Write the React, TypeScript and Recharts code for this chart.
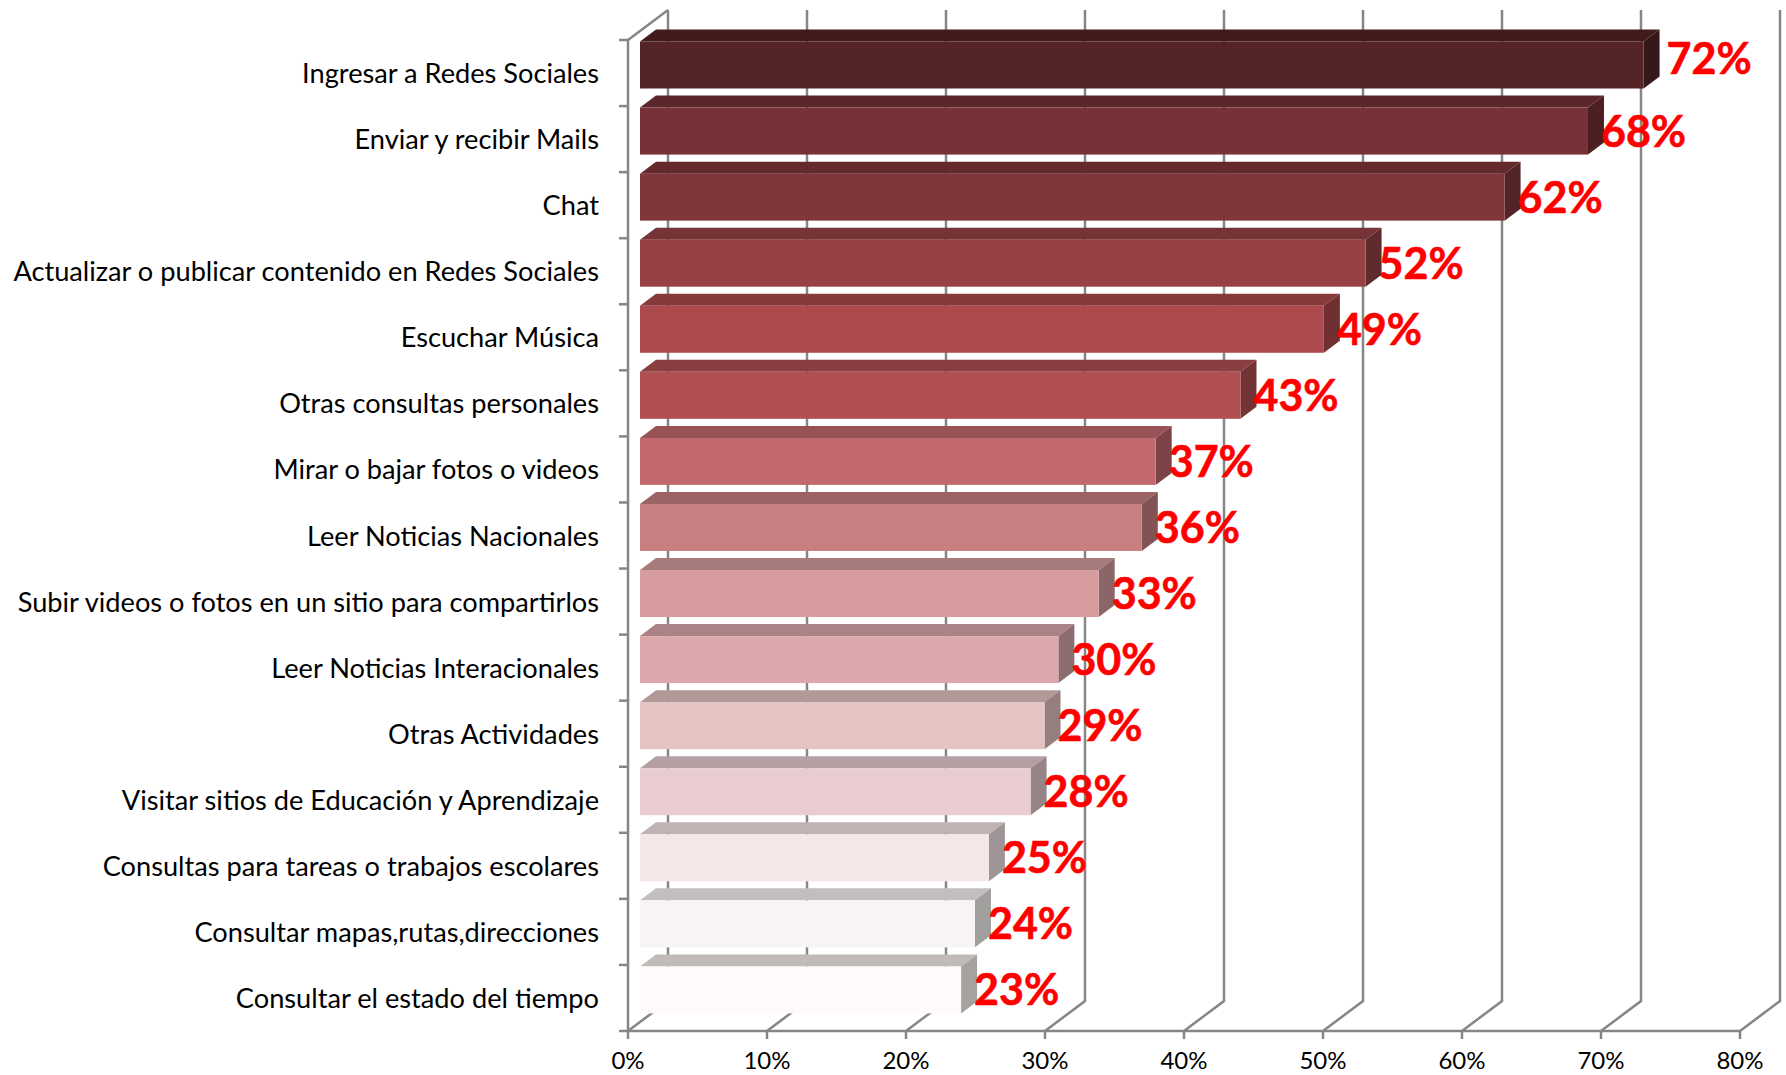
import React from "react";
import { BarChart, Bar, XAxis, YAxis, CartesianGrid, LabelList } from "recharts";

const categories = [
  "Ingresar a Redes Sociales",
  "Enviar y recibir Mails",
  "Chat",
  "Actualizar o publicar contenido en Redes Sociales",
  "Escuchar Música",
  "Otras consultas personales",
  "Mirar o bajar fotos o videos",
  "Leer Noticias Nacionales",
  "Subir videos o fotos en un sitio para compartirlos",
  "Leer Noticias Interacionales",
  "Otras Actividades",
  "Visitar sitios de Educación y Aprendizaje",
  "Consultas para tareas o trabajos escolares",
  "Consultar mapas,rutas,direcciones",
  "Consultar el estado del tiempo",
];
const values = [72.2, 68.2, 62.2, 52.2, 49.2, 43.2, 37.1, 36.1, 33.0, 30.1, 29.1, 28.1, 25.1, 24.1, 23.1];
const valueLabels = ["72%", "68%", "62%", "52%", "49%", "43%", "37%", "36%", "33%", "30%", "29%", "28%", "25%", "24%", "23%"];
const frontColors = ["#552427", "#763236", "#7f373a", "#964245", "#ad4a4d", "#b15053", "#c1696d", "#c87f82", "#d69c9e", "#dba8ac", "#e5c3c3", "#e9ccd0", "#f5e6e7", "#f9f4f4", "#fdfaf9"];
const topColors = ["#421c1d", "#5c272b", "#63292d", "#753336", "#873a3c", "#8a3e41", "#975255", "#9c6365", "#a77a7b", "#ab8386", "#b39898", "#b69fa2", "#bfb3b4", "#c2bebe", "#c0bbb9"];
const sideColors = ["#361719", "#4c2023", "#522427", "#612b2d", "#703032", "#733436", "#7d4447", "#825254", "#8b6567", "#8e6d70", "#957e7e", "#978486", "#9f9596", "#a19e9e", "#a5a2a0"];
const xTicks = [0, 10, 20, 30, 40, 50, 60, 70, 80];

const data = categories.map((name, i) => ({ name, value: values[i], label: valueLabels[i] }));

const GRAY = "#868686";
const FONT = "Lato, 'Open Sans', sans-serif";
const BAR_INSET = 12;
const DEPTH_X = 16;
const DEPTH_Y = 12;
const WALL_X = 40;
const WALL_Y = 30;
const PLOT_TOP = 40;
const PLOT_BOTTOM = 1031;
const X_AXIS_HEIGHT = 44;
const LINE_WIDTH = 2.5;

function Bar3D(props: any) {
  const { x, y, width, height, index } = props;
  const l = x + BAR_INSET;
  const t = y - 8.5;
  const r = l + width;
  const b = t + height;
  return (
    <g>
      <polygon points={`${l},${t} ${l + DEPTH_X},${t - DEPTH_Y} ${r + DEPTH_X},${t - DEPTH_Y} ${r},${t}`} fill={topColors[index]} />
      <polygon points={`${r},${t} ${r + DEPTH_X},${t - DEPTH_Y} ${r + DEPTH_X},${b - DEPTH_Y} ${r},${b}`} fill={sideColors[index]} />
      <rect x={l} y={t} width={width} height={height} fill={frontColors[index]} />
    </g>
  );
}

function WallLine(props: any) {
  const { x1 } = props;
  const bx = x1 + WALL_X;
  return (
    <polyline
      key={`wall-${x1}`}
      points={`${x1},${PLOT_BOTTOM} ${bx},${PLOT_BOTTOM - WALL_Y} ${bx},${PLOT_TOP - WALL_Y}`}
      fill="none"
      stroke={GRAY}
      strokeWidth={LINE_WIDTH}
    />
  );
}

function CategoryTick(props: any) {
  const { y, payload, index } = props;
  const axisX = 628;
  const half = 33.03;
  return (
    <g>
      <line x1={axisX - 9} x2={axisX} y1={y - half} y2={y - half} stroke={GRAY} strokeWidth={LINE_WIDTH} />
      {index === categories.length - 1 && (
        <line x1={axisX - 9} x2={axisX} y1={y + half} y2={y + half} stroke={GRAY} strokeWidth={LINE_WIDTH} />
      )}
      {index === 0 && (
        <line x1={axisX} x2={axisX + WALL_X} y1={PLOT_TOP} y2={PLOT_TOP - WALL_Y} stroke={GRAY} strokeWidth={LINE_WIDTH} />
      )}
      <text x={599} y={y} dy={10} textAnchor="end" fontFamily={FONT} fontSize={27.2} fill="#000">
        {payload.value}
      </text>
    </g>
  );
}

function ValueLabel(props: any) {
  const { x, y, width, value, index } = props;
  const shiftX = index === 0 ? 7 : -3;
  const shiftY = index === 0 ? 0 : 7;
  return (
    <text
      x={x + width + BAR_INSET + DEPTH_X + shiftX}
      y={y - 8.5 + 32 + shiftY}
      fontFamily={FONT}
      fontWeight={700}
      fontSize={43}
      fill="#ff0000"
      stroke="#ff0000"
      strokeWidth={0.6}
    >
      {value}
    </text>
  );
}

export default function App() {
  return (
    <div style={{ position: "absolute", left: 0, top: 0 }}>
      <BarChart
        width={1786}
        height={1075}
        data={data}
        layout="vertical"
        margin={{ top: PLOT_TOP, right: 46, bottom: 1075 - PLOT_BOTTOM - X_AXIS_HEIGHT, left: 0 }}
      >
        <CartesianGrid horizontal={false} vertical={WallLine as any} />
        <XAxis
          type="number"
          domain={[0, 80]}
          ticks={xTicks}
          tickFormatter={(v: number) => `${v}%`}
          interval={0}
          height={X_AXIS_HEIGHT}
          stroke={GRAY}
          strokeWidth={LINE_WIDTH}
          tickSize={8}
          tickMargin={13}
          tick={{ fill: "#000", fontFamily: FONT, fontSize: 24 }}
        />
        <YAxis
          type="category"
          dataKey="name"
          width={628}
          interval={0}
          tickLine={false}
          stroke={GRAY}
          strokeWidth={LINE_WIDTH}
          tick={CategoryTick as any}
        />
        <Bar dataKey="value" barSize={47} shape={Bar3D as any} isAnimationActive={false}>
          <LabelList dataKey="label" content={ValueLabel as any} />
        </Bar>
      </BarChart>
    </div>
  );
}
